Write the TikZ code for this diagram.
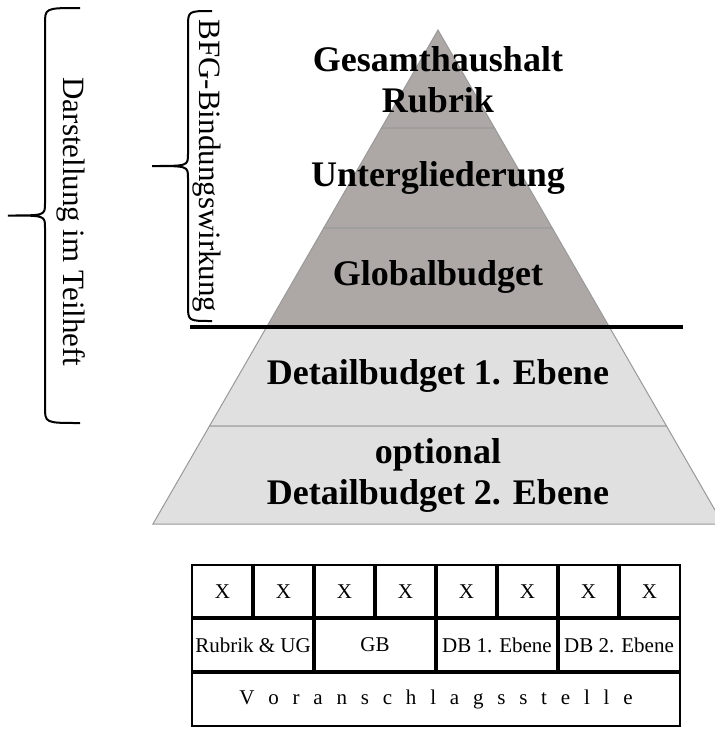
\documentclass[tikz,border=0pt]{standalone}
\usepackage{fontspec}
\setmainfont{Liberation Serif}
\usepackage{tikz}
\usepackage{color}
\definecolor{darklayer}{rgb}{0.68,0.66,0.65}
\definecolor{lightlayer}{rgb}{0.88,0.88,0.88}
\definecolor{layerline}{rgb}{0.6,0.6,0.6}

\newcommand{\drawlayer}[3]{
    % Half widths of the layer at its top and bottom
    \pgfmathsetmacro{\halftop}{0.577*(#1-30)}
    \pgfmathsetmacro{\halfbot}{0.577*(#2-30)}

    % Fill the trapezoid of the layer
    \filldraw [fill=#3, draw=layerline, line width=1pt]
        ({438-\halftop}, #1) -- ({438+\halftop}, #1) -- ({438+\halfbot}, #2) -- ({438-\halfbot}, #2) -- cycle;
}

\newcommand{\drawbrace}[5]{
    % Middle of the brace, where the tip is
    \pgfmathsetmacro{\ymid}{(#2+#3)/2}

    % Draw the brace with its tip pointing left
    \draw [line width=2pt] (#5, #2) .. controls (#1, #2) .. (#1, #2+16)
        -- (#1, \ymid-12) .. controls (#1, \ymid) .. (#4, \ymid)
        .. controls (#1, \ymid) .. (#1, \ymid+12)
        -- (#1, #3-16) .. controls (#1, #3) .. (#5, #3);
}

\tikzset{
    layertext/.style={font=\fontsize{36}{41}\selectfont\bfseries, align=center},
    sidetext/.style={font=\fontsize{31}{36}\selectfont, rotate=-90},
    cell/.style={font=\fontsize{21}{24}\selectfont}
}

\begin{document}
\begin{tikzpicture}[x=1pt, y=-1pt]
    \useasboundingbox (0,0) rectangle (715,729);

    \begin{scope}
        \clip (0,0) rectangle (715,729);
        % Draw the layers of the pyramid
        \drawlayer{30}{128}{darklayer}
        \drawlayer{128}{228}{darklayer}
        \drawlayer{228}{327}{darklayer}
        \drawlayer{327}{426}{lightlayer}
        \drawlayer{426}{524}{lightlayer}
    \end{scope}

    % Label the layers
    \node[layertext] (gesamt) at (438, 80) {Gesamthaushalt\\Rubrik};
    \node[layertext] (ug) at (438, 178) {Untergliederung};
    \node[layertext] (global) at (438, 277) {Globalbudget};
    \node[layertext] (detail1) at (438, 376) {Detailbudget 1. Ebene};
    \node[layertext] (detail2) at (438, 475) {optional\\Detailbudget 2. Ebene};

    % Draw the binding line
    \draw [line width=3.5pt] (190,327) -- (683,327);

    % Draw the braces and their labels
    \drawbrace{45}{8}{423}{8}{80}
    \node[sidetext] (teilheft) at (71, 222) {Darstellung im Teilheft};
    \drawbrace{188}{11}{321}{152}{212}
    \node[sidetext] (bfg) at (207, 166) {BFG-Bindungswirkung};

    % Draw the table
    \draw [line width=2.5pt] (192,565) rectangle (680,726);
    \draw [line width=4pt] (192,618) -- (680,618);
    \draw [line width=4pt] (192,672) -- (680,672);
    \foreach \i in {1,...,7}
    \draw [line width=4pt] ({192+61*\i},565) -- ({192+61*\i},618);
    \foreach \i in {2,4,6}
    \draw [line width=4pt] ({192+61*\i},618) -- ({192+61*\i},672);

    % Fill in the cells
    \foreach \i in {1,...,8}
    \node[cell] (x\i) at ({192+61*(\i-0.5)},591.5) {X};
    \node[cell] (rubrikug) at (253,645) {Rubrik \& UG};
    \node[cell] (gb) at (375,645) {GB};
    \node[cell] (db1) at (497,645) {DB 1. Ebene};
    \node[cell] (db2) at (619,645) {DB 2. Ebene};
    \node[cell] (vast) at (436,699) {\spaceskip=13.8pt V o r a n s c h l a g s s t e l l e};
\end{tikzpicture}
\end{document}
